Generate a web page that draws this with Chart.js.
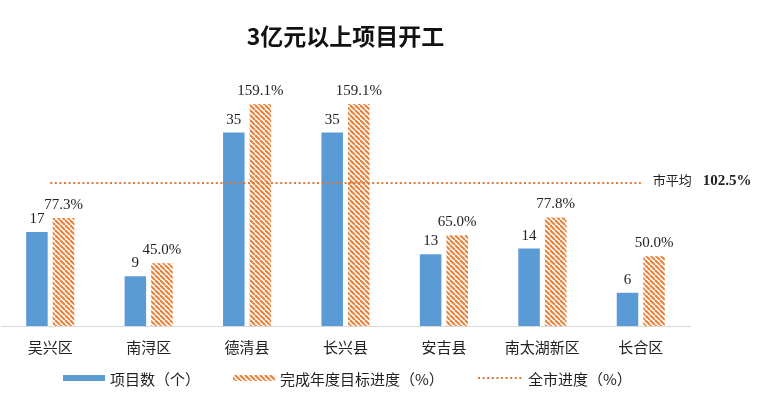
<!DOCTYPE html>
<html>
<head>
<meta charset="utf-8">
<script src="https://cdn.jsdelivr.net/npm/chart.js@4/dist/chart.umd.min.js"></script>
<style>
  html, body { margin: 0; padding: 0; background: #fff; }
  #wrap { width: 768px; height: 398px; }
</style>
</head>
<body>
<div id="wrap"><canvas id="chart"></canvas></div>
<script>
const districts = ["吴兴区", "南浔区", "德清县", "长兴县", "安吉县", "南太湖新区", "长合区"];
const projectCounts = [17, 9, 35, 35, 13, 14, 6];
const progressPct = [77.3, 45.0, 159.1, 159.1, 65.0, 77.8, 50.0];
const cityAvgPct = 102.5;
const seriesNames = ["项目数（个）", "完成年度目标进度（%）", "全市进度（%）"];
const chartTitle = "3亿元以上项目开工";
const avgLabel = "市平均";

const BLUE = "#5B9BD5";
const ORANGE = "#E8823C";
const DOT = "#DD7A3A";
const CJK = "'Noto Sans CJK SC', 'Noto Sans', sans-serif";
const SERIF = "'Liberation Serif', 'DejaVu Serif', serif";

// diagonal hatch ("\") used for the progress bars
function makeHatch() {
  const s = 5;
  const c = document.createElement("canvas");
  c.width = s; c.height = s;
  const g = c.getContext("2d");
  g.strokeStyle = ORANGE;
  g.lineWidth = 2.1;
  for (const k of [-s, 0, s]) {
    g.beginPath();
    g.moveTo(k, 0);
    g.lineTo(k + s, s);
    g.stroke();
  }
  return g.createPattern(c, "repeat");
}
const hatch = makeHatch();

const valueLabels = {
  id: "valueLabels",
  afterDatasetsDraw(chart) {
    const ctx = chart.ctx;
    ctx.save();
    ctx.font = "15px " + SERIF;
    ctx.fillStyle = "#222";
    ctx.textAlign = "center";
    ctx.textBaseline = "alphabetic";
    [0, 1].forEach(di => {
      const meta = chart.getDatasetMeta(di);
      meta.data.forEach((bar, i) => {
        const v = chart.data.datasets[di].data[i];
        const txt = di === 0 ? String(v) : v.toFixed(1) + "%";
        ctx.fillText(txt, bar.x, bar.y - 9);
      });
    });
    // city average note at the end of the dotted line
    const lineMeta = chart.getDatasetMeta(2);
    const last = lineMeta.data[lineMeta.data.length - 1];
    let x = last.x + 12;
    const y = last.y - 3;
    ctx.textAlign = "left";
    ctx.textBaseline = "middle";
    ctx.font = "13px " + CJK;
    ctx.fillText(avgLabel, x, y);
    x += ctx.measureText(avgLabel).width + 11;
    ctx.font = "bold 15px " + SERIF;
    ctx.fillText(cityAvgPct.toFixed(1) + "%", x, y + 1);
    ctx.restore();
  }
};

const bottomLegend = {
  id: "bottomLegend",
  afterDraw(chart) {
    const ctx = chart.ctx;
    const y = 378;
    ctx.save();
    ctx.font = "15px " + CJK;
    ctx.textBaseline = "middle";
    ctx.fillStyle = BLUE;
    ctx.fillRect(63, y - 3, 42, 6);
    ctx.fillStyle = hatch;
    ctx.fillRect(233, y - 3, 42, 6);
    ctx.strokeStyle = DOT;
    ctx.lineWidth = 2;
    ctx.setLineDash([2, 2.6]);
    ctx.beginPath();
    ctx.moveTo(478, y);
    ctx.lineTo(523, y);
    ctx.stroke();
    ctx.setLineDash([]);
    ctx.fillStyle = "#222";
    ctx.fillText(seriesNames[0], 110, y + 1);
    ctx.fillText(seriesNames[1], 280, y + 1);
    ctx.fillText(seriesNames[2], 528, y + 1);
    ctx.restore();
  }
};

new Chart(document.getElementById("chart"), {
  data: {
    labels: districts,
    datasets: [
      {
        type: "bar",
        label: seriesNames[0],
        data: projectCounts,
        backgroundColor: BLUE,
        yAxisID: "y",
        order: 1,
        categoryPercentage: 0.54,
        barPercentage: 0.81
      },
      {
        type: "bar",
        label: seriesNames[1],
        data: progressPct,
        backgroundColor: hatch,
        yAxisID: "y2",
        order: 1,
        categoryPercentage: 0.54,
        barPercentage: 0.81
      },
      {
        type: "line",
        label: seriesNames[2],
        data: districts.map(() => cityAvgPct),
        borderColor: DOT,
        borderWidth: 2,
        borderDash: [2, 2.6],
        pointRadius: 0,
        fill: false,
        yAxisID: "y2",
        order: 0
      }
    ]
  },
  options: {
    responsive: true,
    maintainAspectRatio: false,
    animation: false,
    layout: { padding: { left: 1, right: 78, top: 0, bottom: 30 } },
    plugins: {
      legend: { display: false },
      tooltip: { enabled: false },
      title: {
        display: true,
        text: chartTitle,
        color: "#111",
        font: { family: CJK, size: 23, weight: "bold" },
        padding: { top: 22, bottom: 0 }
      }
    },
    scales: {
      x: {
        grid: { display: false, drawTicks: false },
        border: { display: true, color: "#D9D9D9", width: 1 },
        ticks: {
          color: "#222",
          padding: 12,
          font: { family: CJK, size: 15 },
          maxRotation: 0,
          autoSkip: false
        }
      },
      y: { display: false, min: 0, max: 50 },
      y2: { display: false, min: 0, max: 198 }
    }
  },
  plugins: [valueLabels, bottomLegend]
});
</script>
</body>
</html>
